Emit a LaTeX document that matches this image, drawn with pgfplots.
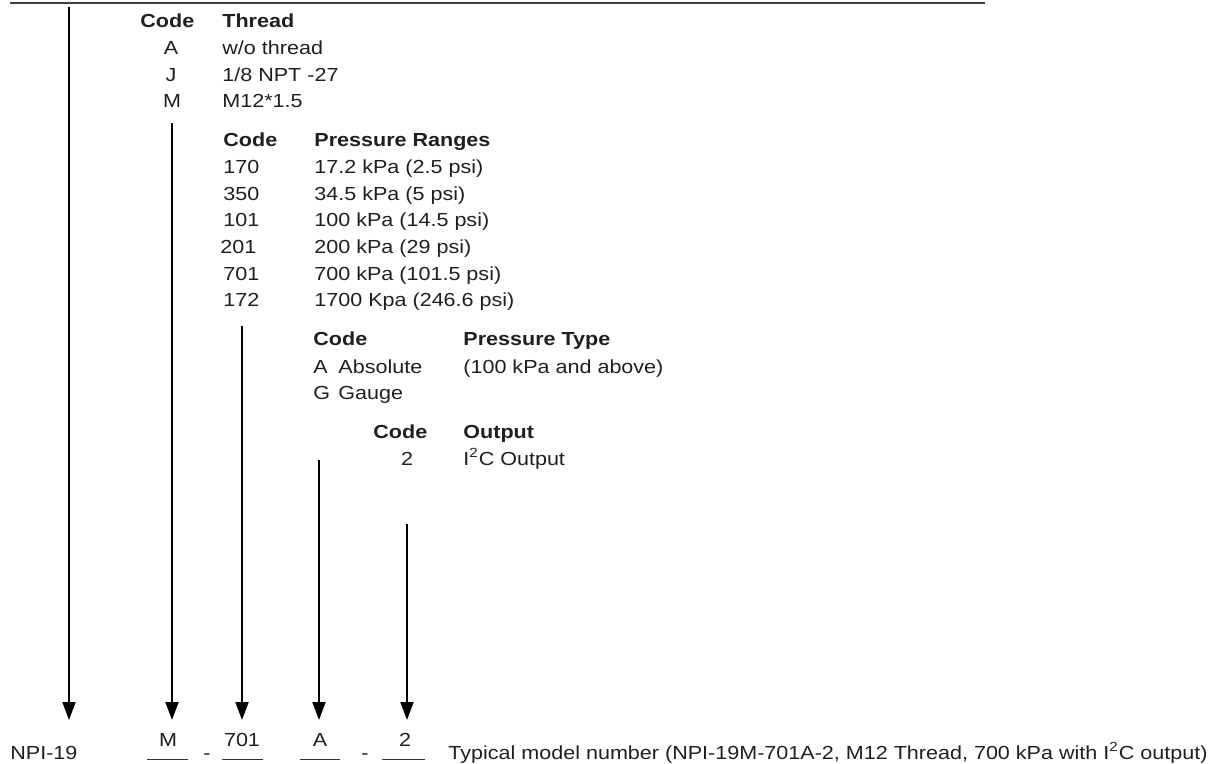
\documentclass[border=0pt]{standalone}
\usepackage{fontspec}
\setmainfont[FakeStretch=1.14]{Liberation Sans}
\usepackage{pgfplots}
\pgfplotsset{compat=1.18}
\usetikzlibrary{arrows.meta}

% text style: one pixel of the reference is 0.5pt here
\tikzset{
  lbl/.style={font=\fontsize{9.45}{11}\selectfont, text=black!88, inner sep=0pt},
  arr/.style={black, line width=1pt, -{Triangle[width=6.5pt,length=9pt]}},
}

\begin{document}
\begin{tikzpicture}
\begin{axis}[
    width=610pt, height=382pt,
    scale only axis,
    hide axis,
    clip=false,
    xmin=0, xmax=1220,
    ymin=0, ymax=764,
    y dir=reverse,
]

% rule at the top
\addplot[black!75, line width=0.8pt] coordinates {(10,3) (985,3)};

% arrows down to the model number
\addplot[arr] coordinates {(69,7) (69,720)};
\addplot[arr] coordinates {(172,123) (172,720)};
\addplot[arr] coordinates {(242,326) (242,720)};
\addplot[arr] coordinates {(319,460) (319,720)};
\addplot[arr] coordinates {(407,524) (407,720)};

% blanks under the code letters
\addplot[black!80, line width=0.5pt] coordinates {(147,759) (188,759)};
\addplot[black!80, line width=0.5pt] coordinates {(222,759) (263,759)};
\addplot[black!80, line width=0.5pt] coordinates {(300,759) (340,759)};
\addplot[black!80, line width=0.5pt] coordinates {(382,759) (425,759)};

% Thread
\node[lbl, anchor=base west] at (axis cs:140,28) {\bfseries Code};
\node[lbl, anchor=base west] at (axis cs:222,28) {\bfseries Thread};
\node[lbl, anchor=base] at (axis cs:171,55) {A};
\node[lbl, anchor=base west] at (axis cs:222,55) {w/o thread};
\node[lbl, anchor=base] at (axis cs:171,82) {J};
\node[lbl, anchor=base west] at (axis cs:222,82) {1/8 NPT -27};
\node[lbl, anchor=base] at (axis cs:172,108) {M};
\node[lbl, anchor=base west] at (axis cs:222,108) {M12*1.5};

% Pressure ranges
\node[lbl, anchor=base west] at (axis cs:223,147) {\bfseries Code};
\node[lbl, anchor=base west] at (axis cs:314,147) {\bfseries Pressure Ranges};
\node[lbl, anchor=base west] at (axis cs:223,174) {170};
\node[lbl, anchor=base west] at (axis cs:314,174) {17.2 kPa (2.5 psi)};
\node[lbl, anchor=base west] at (axis cs:223,201) {350};
\node[lbl, anchor=base west] at (axis cs:314,201) {34.5 kPa (5 psi)};
\node[lbl, anchor=base west] at (axis cs:223,227) {101};
\node[lbl, anchor=base west] at (axis cs:314,227) {100 kPa (14.5 psi)};
\node[lbl, anchor=base west] at (axis cs:220,254) {201};
\node[lbl, anchor=base west] at (axis cs:314,254) {200 kPa (29 psi)};
\node[lbl, anchor=base west] at (axis cs:223,281) {701};
\node[lbl, anchor=base west] at (axis cs:314,281) {700 kPa (101.5 psi)};
\node[lbl, anchor=base west] at (axis cs:223,307) {172};
\node[lbl, anchor=base west] at (axis cs:314,307) {1700 Kpa (246.6 psi)};

% Pressure type
\node[lbl, anchor=base west] at (axis cs:313,346) {\bfseries Code};
\node[lbl, anchor=base west] at (axis cs:463,346) {\bfseries Pressure Type};
\node[lbl, anchor=base west] at (axis cs:313,374) {A};
\node[lbl, anchor=base west] at (axis cs:338,374) {Absolute};
\node[lbl, anchor=base west] at (axis cs:463,374) {(100 kPa and above)};
\node[lbl, anchor=base west] at (axis cs:313,400) {G};
\node[lbl, anchor=base west] at (axis cs:338,400) {Gauge};

% Output
\node[lbl, anchor=base west] at (axis cs:373,438) {\bfseries Code};
\node[lbl, anchor=base west] at (axis cs:463,438) {\bfseries Output};
\node[lbl, anchor=base] at (axis cs:407,465) {2};
\node[lbl, anchor=base west] at (axis cs:463,465) {I\textsuperscript{2}C Output};

% model number row
\node[lbl, anchor=base west] at (axis cs:10,759) {NPI-19};
\node[lbl, anchor=base] at (axis cs:168,746) {M};
\node[lbl, anchor=base] at (axis cs:207,759) {-};
\node[lbl, anchor=base] at (axis cs:242,746) {701};
\node[lbl, anchor=base] at (axis cs:320,746) {A};
\node[lbl, anchor=base] at (axis cs:365,759) {-};
\node[lbl, anchor=base] at (axis cs:405,746) {2};
\node[lbl, anchor=base west] at (axis cs:448,759) {Typical model number (NPI-19M-701A-2, M12 Thread, 700 kPa with I\textsuperscript{2}C output)};

\end{axis}
\pgfresetboundingbox
\path[use as bounding box] (current axis.south west) rectangle (current axis.north east);
\end{tikzpicture}
\end{document}
